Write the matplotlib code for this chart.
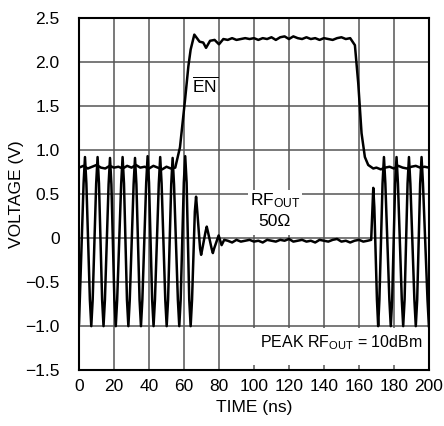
"""
EN / RF_OUT switching waveform
"""
import matplotlib
matplotlib.use('Agg')
import matplotlib.pyplot as plt
from matplotlib.patches import Rectangle

#%% ------------------------------- ###
###             0. Data             ###
### ------------------------------- ###

# EN control trace (V) vs time (ns)
en_t = [0, 2.5, 5, 7.5, 10, 12.5, 15, 17.5, 20, 22.5, 25, 27.5, 30, 32.5, 35, 37.5,
        40, 42.5, 45, 47.5, 50, 52.5, 55,
        57.7, 60.6, 62.5, 63.8, 65.9, 68.9, 71, 72.6, 74.9,
        77.5, 80, 82.5, 85, 87.5, 90, 92.5, 95, 97.5, 100, 102.5, 105, 107.5, 110,
        112.5, 115, 117.5, 120, 122.5, 125, 127.5, 130, 132.5, 135, 137.5, 140,
        142.5, 145, 147.5, 150, 152.5, 155,
        157.7, 159.6, 161.5, 163.4, 165.3, 168.2,
        170, 172.5, 175, 177.5, 180, 182.5, 185, 187.5, 190, 192.5, 195, 197.5, 200]
en_v = [0.80, 0.82, 0.79, 0.81, 0.83, 0.80, 0.79, 0.82, 0.80, 0.81, 0.79, 0.82,
        0.80, 0.83, 0.80, 0.81, 0.79, 0.82, 0.80, 0.78, 0.81, 0.79, 0.80,
        1.03, 1.57, 1.95, 2.14, 2.31, 2.23, 2.22, 2.16, 2.24,
        2.25, 2.20, 2.26, 2.25, 2.27, 2.25, 2.26, 2.27, 2.26, 2.27, 2.25, 2.27,
        2.26, 2.28, 2.25, 2.28, 2.29, 2.26, 2.29, 2.27, 2.26, 2.28, 2.26, 2.27,
        2.25, 2.27, 2.26, 2.25, 2.27, 2.28, 2.26, 2.27,
        2.19, 1.76, 1.19, 0.92, 0.83, 0.79,
        0.80, 0.78, 0.80, 0.81, 0.79, 0.82, 0.80, 0.79, 0.81, 0.82, 0.80, 0.81, 0.80]

# RF output trace (V) vs time (ns): burst, ring-down, quiet, burst again
rf_t = [0, 2.6, 3.4, 4.2, 6.2, 7.0, 7.8, 9.8, 10.6, 11.4, 13.2, 14.0, 14.8,
        16.9, 17.7, 18.5, 20.2, 21.0, 21.8, 24.1, 24.9, 25.7, 27.4, 28.2, 29.0,
        31.2, 32.0, 32.8, 34.6, 35.4, 36.2, 38.4, 39.2, 40.0, 41.8, 42.6, 43.4,
        45.6, 46.4, 47.2, 49.3, 50.1, 50.9, 52.7, 53.5, 54.3, 56.5, 57.3, 58.1,
        59.9, 60.7, 61.5, 63.0, 63.8, 64.6,
        66.2, 66.9, 67.6, 69.2, 69.8, 70.5, 72.3, 73.0, 73.7, 75.8, 76.5, 77.2,
        79.8, 81.5, 83.0,
        85, 87.5, 90, 92.5, 95, 97.5, 100, 102.5, 105, 107.5, 110, 112.5, 115,
        117.5, 120, 122.5, 125, 127.5, 130, 132.5, 135, 137.5, 140, 142.5, 145,
        147.5, 150, 152.5, 155, 157.5, 160, 162.5, 165, 167,
        168.2, 168.8, 170.3, 171.0, 171.7, 173.5, 174.3, 175.1, 177.4, 178.2, 179.0,
        180.7, 181.5, 182.3, 184.5, 185.3, 186.1, 187.8, 188.6, 189.4,
        191.7, 192.5, 193.3, 195.0, 195.8, 196.6, 199.2, 200]
rf_v = [-0.97, 0.62, 0.92, 0.62, -0.70, -1.0, -0.70, 0.62, 0.92, 0.62, -0.70, -1.0, -0.70,
        0.61, 0.91, 0.61, -0.70, -1.0, -0.70, 0.62, 0.92, 0.62, -0.70, -1.0, -0.70,
        0.61, 0.91, 0.61, -0.70, -1.0, -0.70, 0.63, 0.93, 0.63, -0.70, -1.0, -0.70,
        0.62, 0.92, 0.62, -0.70, -1.0, -0.70, 0.61, 0.91, 0.61, -0.70, -1.0, -0.70,
        0.63, 0.93, 0.63, -0.70, -1.0, -0.70,
        0.30, 0.47, 0.30, -0.12, -0.19, -0.12, 0.07, 0.13, 0.07, -0.12, -0.17, -0.12,
        0.03, -0.08, -0.02,
        -0.03, -0.05, -0.02, -0.04, -0.03, -0.02, -0.04, -0.03, -0.05, -0.02, -0.03,
        -0.04, -0.02, -0.03, -0.01, -0.04, -0.03, -0.02, -0.04, -0.03, -0.05, -0.02,
        -0.03, -0.04, -0.02, -0.01, -0.04, -0.03, -0.05, -0.03, -0.02, -0.04, -0.03, -0.02,
        0.57, 0.35, -0.70, -1.0, -0.70, 0.62, 0.92, 0.62, -0.70, -1.0, -0.70,
        0.62, 0.92, 0.62, -0.70, -1.0, -0.70, 0.62, 0.92, 0.62,
        -0.70, -1.0, -0.70, 0.62, 0.92, 0.62, -0.70, -1.0]

x_ticks = [0, 20, 40, 60, 80, 100, 120, 140, 160, 180, 200]
y_ticks = [-1.5, -1.0, -0.5, 0, 0.5, 1.0, 1.5, 2.0, 2.5]
y_tick_labels = ['\u22121.5', '\u22121.0', '\u22120.5', '0', '0.5', '1.0', '1.5', '2.0', '2.5']

#%% ------------------------------- ###
###             1. Plot             ###
### ------------------------------- ###

font = ['Liberation Sans', 'DejaVu Sans']
plt.rcParams['font.family'] = font
plt.rcParams['mathtext.fontset'] = 'custom'
plt.rcParams['mathtext.rm'] = font[0]
plt.rcParams['mathtext.default'] = 'regular'
fs = 12.5

fig = plt.figure(figsize=(4.44, 4.26), dpi=100)
ax = fig.add_axes([0.178, 0.131, 0.788, 0.827])

ax.plot(en_t, en_v, color='black', lw=1.8, zorder=3)
ax.plot(rf_t, rf_v, color='black', lw=1.8, zorder=3)

ax.set_xlim(0, 200)
ax.set_ylim(-1.5, 2.5)
ax.set_xticks(x_ticks)
ax.set_yticks(y_ticks)
ax.set_yticklabels(y_tick_labels)
ax.tick_params(length=0, labelsize=fs)
ax.tick_params(axis='x', pad=6)
ax.tick_params(axis='y', pad=14)
ax.grid(True, color='#555555', lw=1.1)
ax.set_axisbelow(True)
for s in ax.spines.values():
    s.set_linewidth(1.5)

ax.set_xlabel('TIME (ns)', fontsize=fs, labelpad=5)
ax.set_ylabel('VOLTAGE (V)', fontsize=fs, labelpad=1)

# label backgrounds hide the grid
ax.add_patch(Rectangle((96.5, 0.03), 31, 0.52, facecolor='white', edgecolor='none', zorder=1))
ax.add_patch(Rectangle((95, -1.44), 105, 0.42, facecolor='white', edgecolor='none', zorder=1))

ax.text(72, 1.73, r'$\overline{\rm EN}$', fontsize=fs, ha='center', va='center', zorder=4)
ax.text(112, 0.43, r'RF$_{\rm OUT}$', fontsize=fs, ha='center', va='center', zorder=4)
ax.text(112, 0.19, '50\u03a9', fontsize=fs, ha='center', va='center', zorder=4)
ax.text(150, -1.19, r'PEAK RF$_{\rm OUT}$ = 10dBm', fontsize=11.5, ha='center', va='center', zorder=4)

fig.savefig('out.png', dpi=100, facecolor='white')
